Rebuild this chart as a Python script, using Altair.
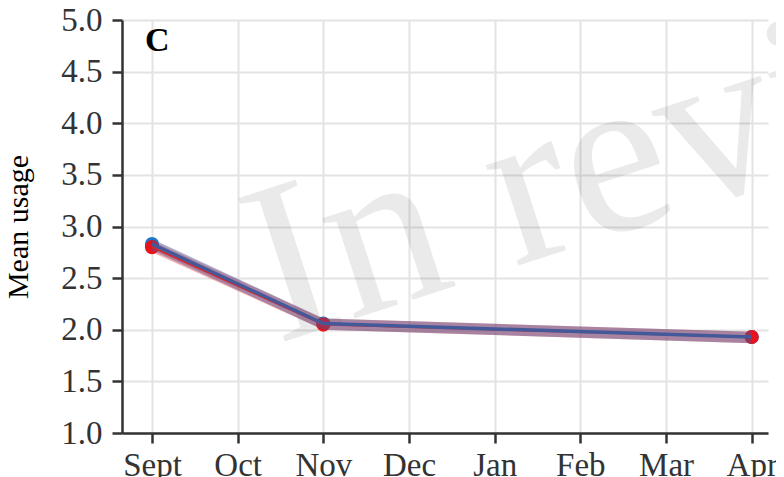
import altair as alt
import pandas as pd

months = ["Sept", "Oct", "Nov", "Dec", "Jan", "Feb", "Mar", "Apr"]
obs_months = ["Sept", "Nov", "Apr"]
blue_mean = [2.83, 2.06, 1.93]
blue_lo = [2.77, 2.00, 1.87]
blue_hi = [2.88, 2.11, 1.98]
red_mean = [2.80, 2.05, 1.93]
red_lo = [2.75, 2.00, 1.87]
red_hi = [2.86, 2.11, 1.98]
y_ticks = [1.0, 1.5, 2.0, 2.5, 3.0, 3.5, 4.0, 4.5, 5.0]

rows = []
for g, m, lo, hi in (("blue", blue_mean, blue_lo, blue_hi), ("red", red_mean, red_lo, red_hi)):
    for i, mo in enumerate(obs_months):
        rows.append({"month": mo, "mi": months.index(mo), "group": g,
                     "mean": m[i], "lo": lo[i], "hi": hi[i]})
df = pd.DataFrame(rows)

SERIF = "Liberation Serif"
month_arr = "[" + ",".join("'%s'" % m for m in months) + "]"
xs = alt.Scale(domain=[-0.35, 7.19], nice=False, zero=False)
ys = alt.Scale(domain=[1, 5], nice=False, zero=False)

X = alt.X("mi:Q", scale=xs, title=None,
          axis=alt.Axis(values=list(range(len(months))), labelExpr=month_arr + "[datum.value]",
                        labelAngle=0, labelPadding=6, labelFlush=False, labelOverlap=False))
Y = alt.Y("mean:Q", scale=ys, title="Mean usage",
          axis=alt.Axis(values=y_ticks, format=".1f", labelPadding=10, titlePadding=27))

base = alt.Chart(df)

def sel(g):
    return base.transform_filter(alt.datum.group == g)

band_r = sel("red").mark_area(color="#dc1e28", opacity=0.35).encode(x=X, y=alt.Y("lo:Q", scale=ys), y2="hi:Q")
band_b = sel("blue").mark_area(color="#50508c", opacity=0.45).encode(x=X, y=alt.Y("lo:Q", scale=ys), y2="hi:Q")
line_r = sel("red").mark_line(color="#d42a30", strokeWidth=2).encode(x=X, y=Y)
line_b = sel("blue").mark_line(color="#44599a", strokeWidth=3.5).encode(x=X, y=Y)
pt_b = sel("blue").mark_circle(color="#1f78c8", opacity=1, size=200).encode(x=X, y=Y)
pt_r = sel("red").mark_circle(color="#e8141c", opacity=1, size=200).encode(x=X, y=Y)

wm = alt.Chart(pd.DataFrame({"t": ["In review"]})).mark_text(
    font=SERIF, fontSize=230, angle=342, align="left", baseline="alphabetic",
    color="#000000", opacity=0.08
).encode(text="t:N", x=alt.value(155), y=alt.value(324))

lab = alt.Chart(pd.DataFrame({"t": ["C"]})).mark_text(
    font=SERIF, fontSize=34, fontWeight="bold", align="left", baseline="alphabetic",
    color="#000000"
).encode(text="t:N", x=alt.value(23), y=alt.value(31))

chart = alt.layer(wm, pt_b, pt_r, band_r, band_b, line_r, line_b, lab).properties(
    width=646, height=413,
    autosize=alt.AutoSizeParams(type="none"),
    padding={"left": 114, "top": 12, "right": 8, "bottom": 44},
    background="white",
).configure_view(stroke=None).configure_axis(
    labelFont=SERIF, labelFontSize=33, labelColor="#333333",
    titleFont=SERIF, titleFontSize=30, titleFontWeight="normal", titleColor="#000000",
    domainColor="#333333", domainWidth=2.5, tickColor="#333333", tickWidth=2.5, tickSize=10,
    gridColor="#e3e3e3", gridWidth=2, grid=True,
)

chart.save("out.html", embed_options={"renderer": "svg", "actions": False})
